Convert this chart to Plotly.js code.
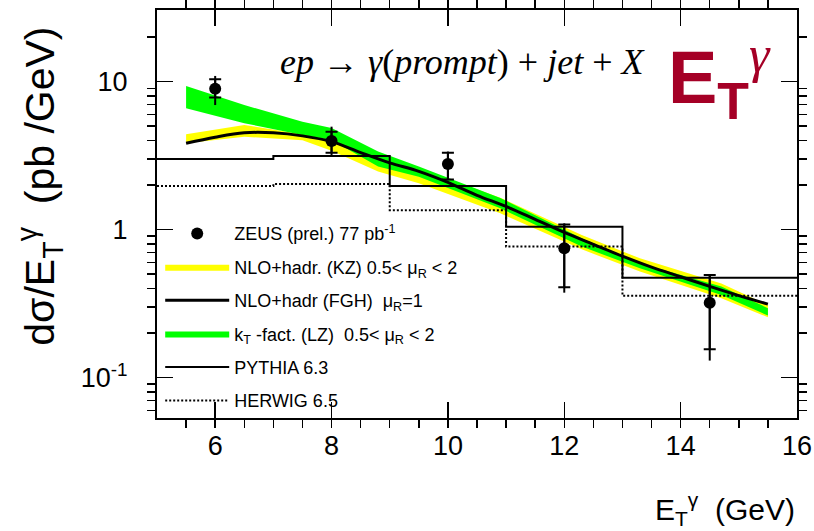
<!DOCTYPE html>
<html><head><meta charset="utf-8">
<script src="https://cdn.plot.ly/plotly-3.0.1.min.js"></script>
<style>html,body{margin:0;padding:0;background:#fff}</style>
</head><body><div id="chart" style="width:814px;height:531px"></div>
<script>
// ZEUS prelim. data (77 pb^-1)
const zeusX = [6, 8, 10, 12, 14.5];
const zeusY = [8.93, 3.96, 2.77, 0.746, 0.32];
const zeusStatHi = [10.35, 4.58, 3.30, 1.08, 0.493];
const zeusStatLo = [7.78, 3.30, 2.18, 0.407, 0.155];
const zeusTotHi = [10.9, 4.95, 3.36, 1.10, 0.50];
const zeusTotLo = [6.93, 3.10, 2.15, 0.374, 0.130];

// MC histograms (bin edges and contents)
const histEdges = [5, 7, 9, 11, 13, 16];
const pythia = [2.99, 3.14, 1.97, 1.045, 0.472];
const herwig = [1.97, 2.03, 1.35, 0.766, 0.356];

// NLO+hadr (FGH) muR=1
const fghX = [5.5, 6, 6.5, 7, 7.5, 8, 8.5, 9, 9.5, 10, 10.5, 11, 11.5, 12, 12.5, 13, 13.5, 14, 14.5, 15, 15.5];
const fghY = [3.82, 4.2, 4.5, 4.5, 4.29, 3.92, 3.31, 2.82, 2.47, 2.08, 1.70, 1.43, 1.17, 0.955, 0.794, 0.66, 0.556, 0.479, 0.412, 0.357, 0.313];

// NLO+hadr (KZ) band
const kzX = [5.5, 6.5, 7.5, 8.0, 8.8, 9.5, 10.9, 12.3, 13.3, 14.7, 15.5];
const kzHi = [4.4, 5.08, 4.4, 4.03, 3.10, 2.59, 1.64, 0.918, 0.638, 0.432, 0.309];
const kzLo = [3.82, 4.23, 4.0, 3.40, 2.46, 2.05, 1.285, 0.734, 0.519, 0.343, 0.255];

// kT-fact (LZ) band
const lzX = [5.5, 6.5, 7.5, 8.0, 8.8, 9.5, 10.9, 12.3, 13.3, 14.7, 15.5];
const lzHi = [9.33, 6.93, 5.35, 4.85, 3.36, 2.66, 1.63, 0.873, 0.592, 0.411, 0.294];
const lzLo = [6.59, 5.22, 4.35, 4.03, 2.66, 2.27, 1.39, 0.766, 0.547, 0.361, 0.262];

// axis ticks
const yTickVals = [0.1, 1, 10];
const yTickText = ['10<sup>-1</sup>', '1', '10'];
const yMinorVals = [0.06, 0.07, 0.08, 0.09, 0.2, 0.3, 0.4, 0.5, 0.6, 0.7, 0.8, 0.9, 2, 3, 4, 5, 6, 7, 8, 9, 20, 30];

const band = (xs, hi, lo) => ({
  x: xs.concat(xs.slice().reverse()),
  y: hi.concat(lo.slice().reverse())
});
const steps = (vals) => vals.concat([vals[vals.length - 1]]);

const kz = band(kzX, kzHi, kzLo);
const lz = band(lzX, lzHi, lzLo);

const traces = [
  { x: kz.x, y: kz.y, type: 'scatter', mode: 'lines', fill: 'toself', fillcolor: '#ffff00',
    line: { width: 0, color: '#ffff00' }, name: 'NLO+hadr. (KZ) 0.5&lt; μ<sub>R</sub> &lt; 2',
    legendgroup: 'kz', legendrank: 2, hoverinfo: 'skip' },
  { x: lz.x, y: lz.y, type: 'scatter', mode: 'lines', fill: 'toself', fillcolor: '#00ff00',
    line: { width: 0, color: '#00ff00' }, name: 'k<sub>T</sub> -fact. (LZ)&nbsp; 0.5&lt; μ<sub>R</sub> &lt; 2',
    legendgroup: 'lz', legendrank: 4, hoverinfo: 'skip' },
  { x: fghX, y: fghY, type: 'scatter', mode: 'lines', line: { color: 'black', width: 3, shape: 'spline' },
    name: 'NLO+hadr (FGH)&nbsp; μ<sub>R</sub>=1', legendgroup: 'fgh', legendrank: 3 },
  { x: histEdges, y: steps(pythia), type: 'scatter', mode: 'lines', line: { color: 'black', width: 2, shape: 'hv' },
    name: 'PYTHIA 6.3', legendgroup: 'py', legendrank: 5 },
  { x: histEdges, y: steps(herwig), type: 'scatter', mode: 'lines', line: { color: 'black', width: 2, shape: 'hv', dash: '2px,2px' },
    name: 'HERWIG 6.5', legendgroup: 'hw', legendrank: 6 },
  { x: zeusX, y: zeusY, type: 'scatter', mode: 'markers', showlegend: false,
    marker: { size: 1, color: 'rgba(0,0,0,0)' },
    error_y: { type: 'data', symmetric: false,
      array: zeusTotHi.map((v, i) => v - zeusY[i]),
      arrayminus: zeusY.map((v, i) => v - zeusTotLo[i]),
      width: 0, thickness: 2, color: 'black' } },
  { x: zeusX, y: zeusY, type: 'scatter', mode: 'markers', name: 'ZEUS (prel.) 77 pb<sup>-1</sup>',
    legendgroup: 'zeus', legendrank: 1,
    marker: { size: 12, color: 'black' },
    error_y: { type: 'data', symmetric: false,
      array: zeusStatHi.map((v, i) => v - zeusY[i]),
      arrayminus: zeusY.map((v, i) => v - zeusStatLo[i]),
      width: 6, thickness: 2, color: 'black' } }
];

const axisFont = { family: 'Liberation Sans, Arial, sans-serif', size: 27, color: 'black' };

const layout = {
  width: 814, height: 531,
  margin: { l: 157, r: 17, t: 10, b: 113 },
  paper_bgcolor: 'white', plot_bgcolor: 'white',
  font: { family: 'Liberation Sans, Arial, sans-serif', color: 'black' },
  showlegend: true,
  legend: { x: 0.005, y: 0.497, xanchor: 'left', yanchor: 'top', bgcolor: 'rgba(0,0,0,0)',
    font: { size: 18, family: 'Liberation Sans, Arial, sans-serif' }, itemwidth: 64,
    traceorder: 'grouped', tracegroupgap: 7 },
  xaxis: {
    range: [5, 16], showgrid: false, zeroline: false,
    showline: true, linewidth: 2, linecolor: 'black', mirror: 'allticks',
    ticks: 'inside', ticklen: 16, tickwidth: 1.5, tickcolor: 'black',
    tick0: 0, dtick: 2, tickfont: axisFont, ticklabelstandoff: 3,
    minor: { dtick: 0.5, ticklen: 8, tickwidth: 1.5, tickcolor: 'black', showgrid: false }
  },
  yaxis: {
    type: 'log', range: [-1.274, 1.483], showgrid: false, zeroline: false,
    showline: true, linewidth: 2, linecolor: 'black', mirror: 'allticks',
    ticks: 'inside', ticklen: 16, tickwidth: 1.5, tickcolor: 'black',
    tickmode: 'array', tickvals: yTickVals, ticktext: yTickText, tickfont: axisFont,
    ticklabelstandoff: 22,
    minor: { tickmode: 'array', tickvals: yMinorVals, ticklen: 8, tickwidth: 1.5, tickcolor: 'black', showgrid: false }
  },
  annotations: [
    { xref: 'paper', yref: 'paper', x: 0.4766, y: 0.873, xanchor: 'center', yanchor: 'middle', showarrow: false,
      text: '<i>ep</i> → <i>γ</i>(<i>prompt</i>) + <i>jet</i> + <i>X</i>',
      font: { family: 'Liberation Serif, Times New Roman, serif', size: 36, color: 'black' } },
    { xref: 'paper', yref: 'paper', x: 0.795, y: 0.966, xanchor: 'left', yanchor: 'top', showarrow: false,
      text: '<b>E<sub>T</sub></b><sup><span style="font-family:Liberation Serif;font-style:italic">γ</span></sup>',
      font: { family: 'Liberation Sans, Arial, sans-serif', size: 74, color: '#a50026' } },
    { xref: 'paper', yref: 'paper', x: 1, y: -0.222, xanchor: 'right', yanchor: 'middle', showarrow: false,
      text: 'E<sub>T</sub><sup>γ</sup>&nbsp; (GeV)',
      font: { family: 'Liberation Sans, Arial, sans-serif', size: 30, color: 'black' } },
    { xref: 'paper', yref: 'paper', x: -0.183, y: 0.569, xanchor: 'center', yanchor: 'middle', showarrow: false,
      textangle: -90,
      text: 'dσ/E<sub>T</sub><sup>γ</sup>&nbsp; (pb /GeV)',
      font: { family: 'Liberation Sans, Arial, sans-serif', size: 41, color: 'black' } }
  ]
};

Plotly.newPlot('chart', traces, layout, { displayModeBar: false, staticPlot: true });
</script>
</body></html>
